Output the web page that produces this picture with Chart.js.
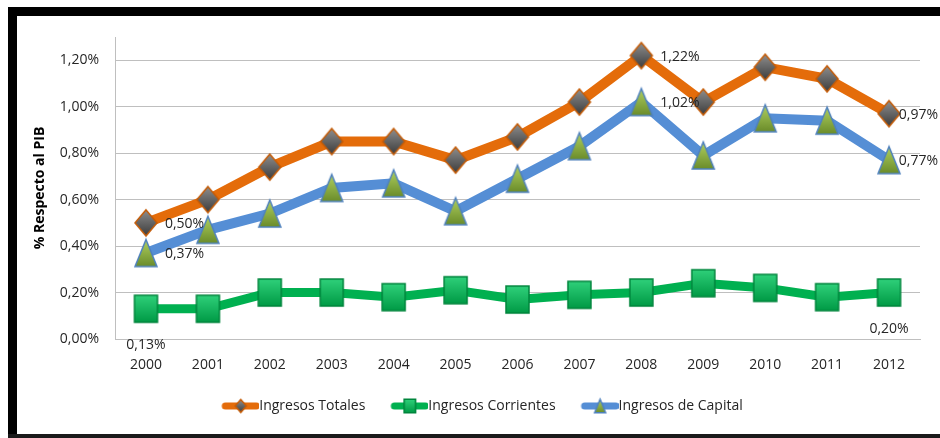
<!DOCTYPE html>
<html>
<head>
<meta charset="utf-8">
<script src="https://cdn.jsdelivr.net/npm/chart.js@4.4.1/dist/chart.umd.min.js"></script>
<style>
  html, body { margin: 0; padding: 0; background: #fff; }
  #wrap { position: relative; width: 940px; height: 438px; overflow: hidden; }
  #chart { position: absolute; left: 0; top: 0; }
  .bar { position: absolute; background: #000; pointer-events: none; }
</style>
</head>
<body>
<div id="wrap">
  <canvas id="chart" width="940" height="438"></canvas>
  <div class="bar" style="left:8px;top:7px;width:932px;height:9px"></div>
  <div class="bar" style="left:8px;top:7px;width:9px;height:431px"></div>
  <div class="bar" style="left:8px;top:434px;width:932px;height:4px;background:#1a1a1a"></div>
</div>
<script>
// Datos (% respecto al PIB)
const years = ['2000','2001','2002','2003','2004','2005','2006','2007','2008','2009','2010','2011','2012'];
const ingresosTotales     = [0.50, 0.60, 0.74, 0.85, 0.85, 0.77, 0.87, 1.02, 1.22, 1.02, 1.17, 1.12, 0.97];
const ingresosCorrientes  = [0.13, 0.13, 0.20, 0.20, 0.18, 0.21, 0.17, 0.19, 0.20, 0.24, 0.22, 0.18, 0.20];
const ingresosCapital     = [0.37, 0.47, 0.54, 0.65, 0.67, 0.55, 0.69, 0.83, 1.02, 0.79, 0.95, 0.94, 0.77];
const yTicks = [0, 0.2, 0.4, 0.6, 0.8, 1.0, 1.2];

// etiquetas de datos visibles: [serie, índice, posición]
const dataLabels = [
  [0, 0, 'right'], [2, 0, 'right'], [1, 0, 'below'],
  [0, 8, 'right'], [2, 8, 'right'],
  [0, 12, 'right'], [2, 12, 'right'], [1, 12, 'below']
];

const FONT = '"Open Sans", "Noto Sans", sans-serif';
const fmt = v => v.toFixed(2).replace('.', ',') + '%';

// Marcadores estilo Excel
function marker(shape, w, h, c1, c2, stroke) {
  const pad = 3;
  const c = document.createElement('canvas');
  c.width = w + pad * 2;
  c.height = h + pad * 2;
  const g = c.getContext('2d');
  drawShape(g, shape, pad, pad, w, h, c1, c2, stroke);
  return c;
}

function drawShape(g, shape, x, y, w, h, c1, c2, stroke) {
  const grad = g.createLinearGradient(0, y, 0, y + h);
  grad.addColorStop(0, c1);
  grad.addColorStop(1, c2);
  g.beginPath();
  if (shape === 'diamond') {
    g.moveTo(x + w / 2, y);
    g.lineTo(x + w, y + h / 2);
    g.lineTo(x + w / 2, y + h);
    g.lineTo(x, y + h / 2);
  } else if (shape === 'triangle') {
    g.moveTo(x + w / 2, y);
    g.lineTo(x + w, y + h);
    g.lineTo(x, y + h);
  } else {
    g.rect(x, y, w, h);
  }
  g.closePath();
  g.fillStyle = grad;
  g.fill();
  g.lineWidth = 1.5;
  g.strokeStyle = stroke;
  g.stroke();
}

function legendSample(color, lw, shape, w, h, c1, c2, stroke) {
  const c = document.createElement('canvas');
  c.width = 60;
  c.height = 20;
  const g = c.getContext('2d');
  g.strokeStyle = color;
  g.lineWidth = lw;
  g.lineCap = 'round';
  g.beginPath();
  g.moveTo(26, 10);
  g.lineTo(57, 10);
  g.stroke();
  drawShape(g, shape, 41.5 - w / 2, 10 - h / 2, w, h, c1, c2, stroke);
  return c;
}

const series = [
  { label: 'Ingresos Totales', data: ingresosTotales, color: '#E46C0A', lw: 10, order: 3,
    shape: 'diamond', w: 22, h: 26, c1: '#8e8e8e', c2: '#3c3c3c', stroke: '#C45C08' },
  { label: 'Ingresos Corrientes', data: ingresosCorrientes, color: '#00B050', lw: 9, order: 2,
    shape: 'rect', w: 23, h: 27, c1: '#2fd07a', c2: '#009a45', stroke: '#00853c' },
  { label: 'Ingresos de Capital', data: ingresosCapital, color: '#558ED5', lw: 10, order: 1,
    shape: 'triangle', w: 22, h: 27, c1: '#b0d060', c2: '#6a8c2a', stroke: '#4F81BD' }
];

const datasets = series.map(s => ({
  label: s.label,
  data: s.data,
  borderColor: s.color,
  backgroundColor: s.color,
  borderWidth: s.lw,
  tension: 0,
  order: s.order,
  pointStyle: marker(s.shape, s.w, s.h, s.c1, s.c2, s.stroke),
  pointRadius: 10,
  pointHoverRadius: 10,
  legendImg: legendSample(s.color, 7, s.shape, s.w * 0.5, s.h * 0.5, s.c1, s.c2, s.stroke)
}));

const labelPlugin = {
  id: 'labels',
  afterDatasetsDraw(chart) {
    const ctx = chart.ctx;
    ctx.save();
    ctx.font = '14px ' + FONT;
    ctx.fillStyle = '#262626';
    ctx.textBaseline = 'middle';
    dataLabels.forEach(([ds, i, pos]) => {
      const pt = chart.getDatasetMeta(ds).data[i];
      const text = fmt(chart.data.datasets[ds].data[i]);
      const tw = ctx.measureText(text).width;
      if (pos === 'right') {
        ctx.textAlign = 'left';
        let x = pt.x + 19;
        if (x + tw > chart.width - 2) x = chart.width - 2 - tw;
        ctx.fillText(text, x, pt.y + 1);
      } else {
        ctx.textAlign = 'center';
        ctx.fillText(text, pt.x, pt.y + 36);
      }
    });
    ctx.restore();
  }
};

new Chart(document.getElementById('chart'), {
  type: 'line',
  data: { labels: years, datasets: datasets },
  plugins: [labelPlugin],
  options: {
    responsive: false,
    animation: false,
    devicePixelRatio: 1,
    layout: { padding: { left: 24, right: 15, top: 37, bottom: 15 } },
    plugins: {
      tooltip: { enabled: false },
      legend: {
        position: 'bottom',
        labels: {
          usePointStyle: true,
          pointStyleWidth: 46,
          padding: 10,
          color: '#262626',
          font: { family: FONT, size: 14 },
          generateLabels(chart) {
            return chart.data.datasets.map((d, i) => ({
              text: d.label,
              pointStyle: d.legendImg,
              fillStyle: d.borderColor,
              strokeStyle: d.borderColor,
              lineWidth: 0,
              hidden: false,
              datasetIndex: i,
              fontColor: '#262626'
            }));
          }
        }
      }
    },
    scales: {
      x: {
        offset: true,
        grid: { display: false, drawTicks: false },
        border: { display: true, color: '#BFBFBF', width: 1 },
        ticks: { color: '#262626', padding: 18, font: { family: FONT, size: 14 }, maxRotation: 0 },
        afterFit(scale) { scale.height = 50; }
      },
      y: {
        min: 0,
        max: 1.3,
        grid: { color: '#BFBFBF', lineWidth: 1, drawTicks: false },
        border: { display: true, color: '#BFBFBF', width: 1 },
        ticks: { color: '#262626', padding: 16, font: { family: FONT, size: 14 }, callback: v => fmt(v) },
        afterBuildTicks(scale) { scale.ticks = yTicks.map(v => ({ value: v })); },
        title: {
          display: true,
          text: '% Respecto al PIB',
          color: '#000',
          font: { family: FONT, size: 14, weight: 'bold' },
          padding: { top: 8, bottom: 0 }
        },
        afterFit(scale) { scale.width = 91; }
      }
    }
  }
});
</script>
</body>
</html>
